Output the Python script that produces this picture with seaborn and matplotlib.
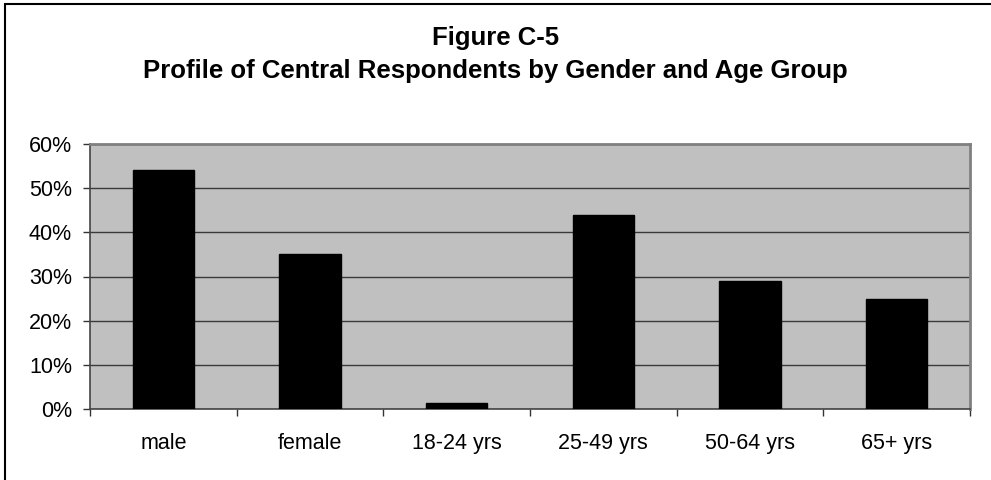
import matplotlib
matplotlib.use("Agg")
import matplotlib.pyplot as plt
from matplotlib.patches import Rectangle
from matplotlib.ticker import FixedLocator, PercentFormatter
import seaborn as sns
import pandas as pd

categories = ["male", "female", "18-24 yrs", "25-49 yrs", "50-64 yrs", "65+ yrs"]
shares = [54, 35, 1.3, 44, 29, 25]
y_ticks = [0, 10, 20, 30, 40, 50, 60]

df = pd.DataFrame({"group": categories, "share": shares})

sns.set_theme(style="white")
plt.rcParams["font.family"] = ["Liberation Sans", "DejaVu Sans"]
plt.rcParams["text.color"] = "black"

fig = plt.figure(figsize=(9.91, 4.8), dpi=100)
W, H = 991, 480
ax = fig.add_axes([90 / W, 1 - 409 / H, 880 / W, 265 / H])
ax.set_facecolor("#c0c0c0")

sns.barplot(data=df, x="group", y="share", color="black", width=0.42,
            saturation=1, ax=ax, zorder=3)
for p in ax.patches:
    p.set_edgecolor("black")

ax.set_xlim(-0.5, len(categories) - 0.5)
ax.set_ylim(0, 60)
ax.yaxis.set_major_locator(FixedLocator(y_ticks))
ax.yaxis.set_major_formatter(PercentFormatter(decimals=0))
ax.grid(axis="y", color="#3a3a3a", linewidth=1.0, zorder=1)
ax.set_axisbelow(True)

# category tick marks sit between the bars
ax.set_xticks([i - 0.5 for i in range(len(categories) + 1)], minor=True)
ax.tick_params(axis="x", which="major", length=0, pad=17, labelsize=15.5,
               labelcolor="black")
ax.tick_params(axis="x", which="minor", length=5, width=1, color="#333333",
               direction="out", bottom=True)
ax.tick_params(axis="y", length=5, width=1, color="#333333", direction="out",
               left=True, labelsize=15.5, pad=8, labelcolor="black")
ax.set_xlabel("")
ax.set_ylabel("")

for side in ["left", "bottom"]:
    ax.spines[side].set_color("#444444")
    ax.spines[side].set_linewidth(1.2)
for side in ["top", "right"]:
    ax.spines[side].set_visible(True)
    ax.spines[side].set_color("#808080")
    ax.spines[side].set_linewidth(2)

fig.text(0.5, 1 - 45 / H, "Figure C-5", ha="center", va="baseline",
         fontsize=18.5, fontweight="bold", color="black")
fig.text(0.5, 1 - 78 / H, "Profile of Central Respondents by Gender and Age Group",
         ha="center", va="baseline", fontsize=18.5, fontweight="bold",
         color="black")

# outer chart frame
fig.patches.append(Rectangle((5 / W, -0.1), 1.2, 1 - 4 / H + 0.1,
                             transform=fig.transFigure, fill=False,
                             edgecolor="black", linewidth=1.5))

fig.savefig("out.png", dpi=100)
